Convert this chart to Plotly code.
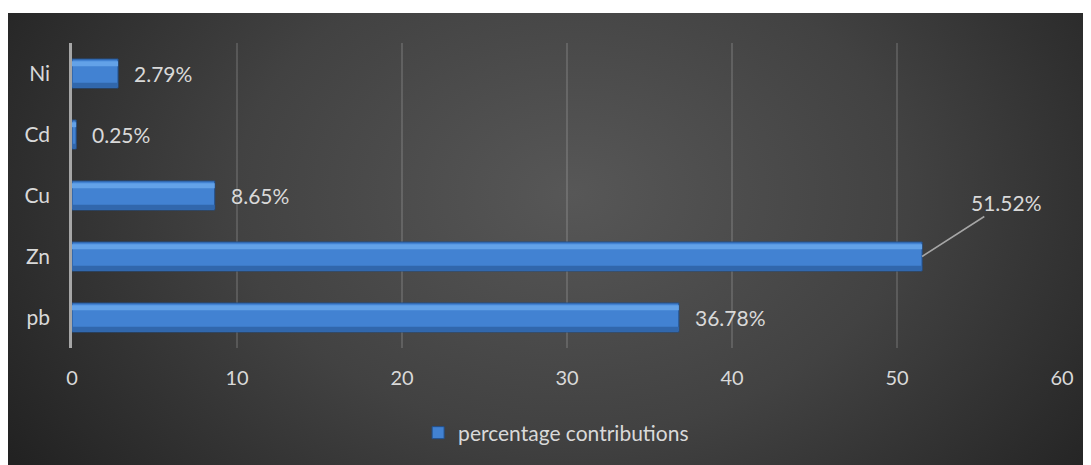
import base64
import plotly.graph_objects as go

# ---- data ----
categories = ["pb", "Zn", "Cu", "Cd", "Ni"]
values = [36.78, 51.52, 8.65, 0.25, 2.79]
series_name = "percentage contributions"
x_ticks = [0, 10, 20, 30, 40, 50, 60]

# page body adds an 8px margin; figure sized to fit the window
W, H = 1083, 457
L, R, T, B = 64, 29, 35, 117
pw, ph = W - L - R, H - T - B

FONT = "Lato, 'Open Sans', sans-serif"
TXT = "#d9d9d9"
FS = 21

svg = (
    '<svg xmlns="http://www.w3.org/2000/svg" width="1084" height="452" viewBox="0 0 1084 452" preserveAspectRatio="none">'
    '<defs><radialGradient id="g" cx="0.52" cy="0.40" r="0.62" gradientTransform="translate(0.52 0.40) scale(1 1.7) translate(-0.52 -0.40)">'
    '<stop offset="0" stop-color="#575757"/><stop offset="0.5" stop-color="#424242"/>'
    '<stop offset="1" stop-color="#222222"/></radialGradient></defs>'
    '<rect width="1084" height="452" fill="url(#g)"/></svg>'
)
src = "data:image/svg+xml;base64," + base64.b64encode(svg.encode()).decode()

fig = go.Figure()
bw = 0.475
fig.add_trace(go.Bar(
    x=values, y=categories, orientation="h", name=series_name,
    width=bw, offset=-bw / 2,
    marker=dict(color="#4282d2", line=dict(color="#22508c", width=1)),
    showlegend=True, hoverinfo="skip",
))
fig.add_trace(go.Bar(
    x=values, y=categories, orientation="h", showlegend=False,
    width=0.08, offset=0.12,
    marker=dict(color="#63a2e8", line=dict(width=0)), hoverinfo="skip",
))
fig.add_trace(go.Bar(
    x=values, y=categories, orientation="h", showlegend=False,
    width=0.07, offset=-bw / 2 + 0.015,
    marker=dict(color="#3167ac", line=dict(width=0)), hoverinfo="skip",
))

annotations = []
for c, v in zip(categories, values):
    label = f"{v:.2f}%"
    if c == "Zn":
        annotations.append(dict(
            x=v, y=c, xref="x", yref="y", text=label, showarrow=True,
            arrowhead=0, arrowwidth=1.5, arrowcolor="#a6a6a6",
            ax=84, ay=-54, font=dict(family=FONT, size=FS, color=TXT),
        ))
    else:
        annotations.append(dict(
            x=v, y=c, xref="x", yref="y", text=label, showarrow=False,
            xanchor="left", xshift=14, font=dict(family=FONT, size=FS, color=TXT),
        ))

fig.update_layout(
    width=W, height=H,
    margin=dict(l=L, r=R, t=T, b=B, pad=0),
    paper_bgcolor="white", plot_bgcolor="rgba(0,0,0,0)",
    barmode="overlay",
    font=dict(family=FONT, size=FS, color=TXT),
    images=[dict(
        source=src, xref="paper", yref="paper",
        x=(0 - L) / pw, y=(H - B - 5) / ph,
        sizex=(W + 2) / pw, sizey=(H - 5) / ph,
        xanchor="left", yanchor="top", sizing="stretch", layer="below",
    )],
    xaxis=dict(
        range=[0, 60], tickvals=x_ticks, ticktext=[str(t) for t in x_ticks],
        showgrid=True, gridcolor="rgba(255,255,255,0.14)", gridwidth=1.5,
        zeroline=False, showline=False, ticks="",
        tickfont=dict(family=FONT, size=20, color=TXT), ticklabelstandoff=16,
    ),
    yaxis=dict(
        categoryorder="array", categoryarray=categories,
        showgrid=False, zeroline=False,
        showline=True, linecolor="#a6a6a6", linewidth=2.5, ticks="",
        tickfont=dict(family=FONT, size=FS, color=TXT), ticklabelstandoff=15,
        range=[-0.5, 4.5],
    ),
    legend=dict(
        orientation="h", x=0.489, xanchor="center", y=(H - B - 425) / ph, yanchor="middle",
        xref="paper", yref="paper", bgcolor="rgba(0,0,0,0)",
        font=dict(family=FONT, size=FS, color=TXT), itemwidth=30,
    ),
    annotations=annotations,
)

fig.write_html("out.html")
